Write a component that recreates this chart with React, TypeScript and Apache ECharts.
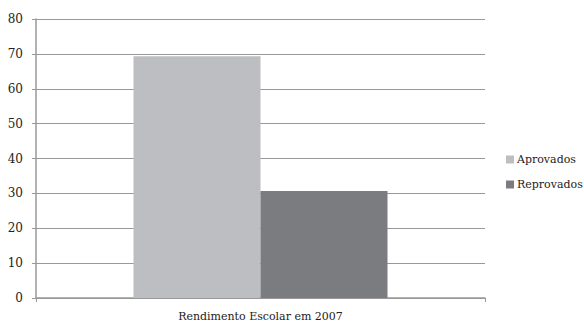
import React, { useEffect, useRef } from "react";
import * as echarts from "echarts";

const categories = ["Rendimento Escolar em 2007"];
const seriesNames = ["Aprovados", "Reprovados"];
const aprovados = [69.3];
const reprovados = [30.7];
const colors = ["#bdbec1", "#7b7c7f"];

export default function App() {
  const ref = useRef<HTMLDivElement>(null);
  useEffect(() => {
    if (!ref.current) return;
    const chart = echarts.init(ref.current, undefined, { renderer: "svg" });
    const font = "DejaVu Serif";
    chart.setOption({
      animation: false,
      textStyle: { fontFamily: font },
      grid: { left: 36, right: 99, top: 19, bottom: 25 },
      legend: {
        orient: "vertical",
        left: 501,
        top: 149,
        itemWidth: 8,
        itemHeight: 8,
        itemGap: 14,
        icon: "rect",
        textStyle: { fontFamily: font, fontSize: 11, color: "#222", padding: [0, 0, 0, -2] },
        data: seriesNames,
      },
      xAxis: {
        type: "category",
        data: categories,
        axisLine: { lineStyle: { color: "#999", width: 1.5 } },
        axisTick: { show: true, length: 4, lineStyle: { color: "#999" } },
        axisLabel: { fontFamily: font, fontSize: 11, color: "#222", margin: 13 },
      },
      yAxis: {
        type: "value",
        min: 0,
        max: 80,
        interval: 10,
        axisLine: { show: true, lineStyle: { color: "#999", width: 1.5 } },
        axisTick: { show: true, length: 4, lineStyle: { color: "#999" } },
        axisLabel: { fontFamily: font, fontSize: 12, color: "#222", margin: 13 },
        splitLine: { lineStyle: { color: "#999", width: 1.2 } },
      },
      series: [
        {
          name: seriesNames[0],
          type: "bar",
          data: aprovados,
          barWidth: 127,
          barGap: "0%",
          itemStyle: { color: colors[0] },
        },
        {
          name: seriesNames[1],
          type: "bar",
          data: reprovados,
          barWidth: 127,
          barGap: "0%",
          itemStyle: { color: colors[1] },
        },
      ],
    });
    return () => chart.dispose();
  }, []);
  return <div ref={ref} style={{ width: 584, height: 323, position: "absolute", left: 0, top: 0 }} />;
}
